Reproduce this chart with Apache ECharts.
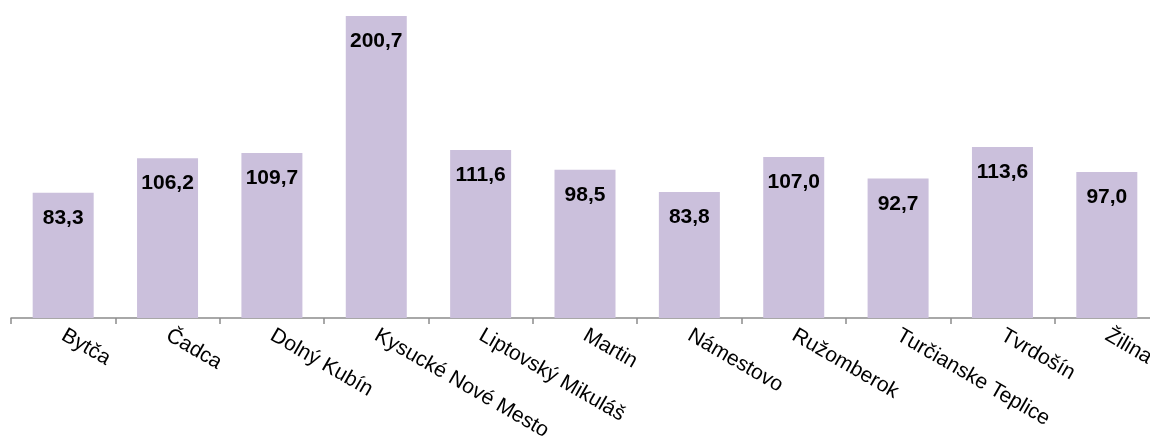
<!DOCTYPE html>
<html>
<head>
<meta charset="utf-8">
<script src="https://cdn.jsdelivr.net/npm/echarts@6/dist/echarts.min.js"></script>
<style>
html,body{margin:0;padding:0;background:#fff;}
#chart{width:1150px;height:438px;}
</style>
</head>
<body>
<div id="chart"></div>
<script>
const categories = ["Bytča","Čadca","Dolný Kubín","Kysucké Nové Mesto","Liptovský Mikuláš","Martin","Námestovo","Ružomberok","Turčianske Teplice","Tvrdošín","Žilina"];
const values = [83.3,106.2,109.7,200.7,111.6,98.5,83.8,107.0,92.7,113.6,97.0];

const chart = echarts.init(document.getElementById('chart'), null, {renderer:'canvas'});
chart.setOption({
  animation:false,
  backgroundColor:'#ffffff',
  grid:{left:11, top:2, width:1148, height:316, containLabel:false, outerBoundsMode:'none'},
  xAxis:{
    type:'category',
    data:categories,
    axisLine:{lineStyle:{color:'#8c8c8c', width:1.5}},
    axisTick:{show:true, length:6, lineStyle:{color:'#8c8c8c', width:1.5}},
    axisLabel:{
      rotate:-30, margin:16, interval:0, hideOverlap:false,
      fontFamily:'"Liberation Sans", Arial, sans-serif',
      fontSize:21, color:'#000'
    }
  },
  yAxis:{type:'value', min:0, max:210, show:false, splitLine:{show:false}},
  series:[{
    type:'bar',
    data:values,
    barWidth:61,
    itemStyle:{color:'#cbc0dc'},
    label:{
      show:true, position:'insideTop', distance:15,
      fontFamily:'"Liberation Sans", Arial, sans-serif',
      fontSize:21, fontWeight:'bold', color:'#000',
      formatter:(p)=>p.value.toFixed(1).replace('.',',')
    }
  }]
});
</script>
</body>
</html>
